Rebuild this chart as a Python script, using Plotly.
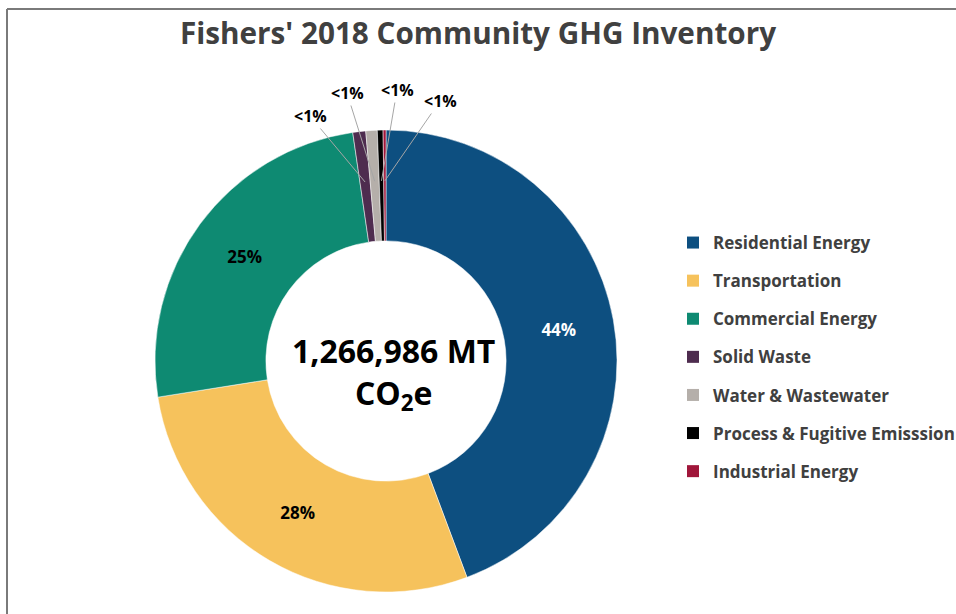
import math
import plotly.graph_objects as go

# ---- data ----
categories = ["Residential Energy", "Transportation", "Commercial Energy", "Solid Waste",
              "Water & Wastewater", "Process & Fugitive Emisssion", "Industrial Energy"]
emissions_mt = [561275, 357290, 319280, 11403, 10136, 5068, 2534]
slice_labels = ["44%", "28%", "25%", "<1%", "<1%", "<1%", "<1%"]
colors = ["#0D4F80", "#F6C25C", "#0E8A72", "#4E2C4F", "#B5AFAA", "#000000", "#A0163A"]
total_text = "1,266,986 MT<br>CO<sub>2</sub>e"
title_text = "Fishers' 2018 Community GHG Inventory"

W, H = 956, 614
# pie placement (pixels)
cx, cy, R = 386, 361, 231
dom_x = [(cx - R) / W, (cx + R) / W]
dom_y = [1 - (cy + R) / H, 1 - (cy - R) / H]

tot = sum(emissions_mt)
big = [i for i, v in enumerate(emissions_mt) if v / tot >= 0.01]
text = [slice_labels[i] if i in big else "" for i in range(len(categories))]
textpos = ["inside" if i in big else "none" for i in range(len(categories))]
txtcol = ["#FFFFFF", "#000000", "#000000", "#000000", "#000000", "#000000", "#000000"]

fig = go.Figure(go.Pie(
    labels=categories, values=emissions_mt, text=text, textinfo="text",
    textposition=textpos, sort=False, direction="clockwise", rotation=0,
    hole=0.52, domain=dict(x=dom_x, y=dom_y), showlegend=False,
    marker=dict(colors=colors, line=dict(color="#FFFFFF", width=0.5)),
    textfont=dict(family="Open Sans", size=17, color=txtcol, weight="bold"),
    insidetextorientation="horizontal",
))

# legend entries (one group each so the rows can be spaced like the original)
for i, (name, col) in enumerate(zip(categories, colors)):
    fig.add_trace(go.Scatter(
        x=[None], y=[None], mode="markers", name=name, legendgroup=f"g{i}",
        marker=dict(symbol="square", size=12, color=col), hoverinfo="skip",
    ))

# leader-line labels for the small slices (label positions in pixels)
label_pos = {3: (310, 116), 4: (347, 93), 5: (397, 90), 6: (440, 101)}
cum = 0
annotations = []
for i, v in enumerate(emissions_mt):
    mid = (cum + v / 2) / tot * 2 * math.pi
    cum += v
    if i in label_pos:
        rr = R * 0.78
        tx = cx + rr * math.sin(mid)
        ty = cy - rr * math.cos(mid)
        lx, ly = label_pos[i]
        annotations.append(dict(
            x=tx / W, y=1 - ty / H, xref="paper", yref="paper",
            ax=lx - tx, ay=ly - ty, axref="pixel", ayref="pixel",
            text=slice_labels[i], showarrow=True, arrowhead=0, arrowwidth=1,
            arrowcolor="#A6A6A6", standoff=0, startstandoff=0,
            font=dict(family="Open Sans", size=16, color="#000000", weight="bold"),
        ))

annotations.append(dict(
    x=(cx + 7) / W, y=1 - (cy + 12) / H, xref="paper", yref="paper", showarrow=False,
    text=total_text, align="center",
    font=dict(family="Open Sans", size=32, color="#000000", weight="bold"),
))

fig.update_layout(
    width=W, height=H, autosize=False,
    margin=dict(l=0, r=0, t=0, b=0, autoexpand=False),
    paper_bgcolor="#FFFFFF", plot_bgcolor="#FFFFFF",
    xaxis=dict(visible=False), yaxis=dict(visible=False),
    title=dict(text=title_text, x=0.5, xanchor="center", y=1 - 34 / H, yanchor="middle",
               font=dict(family="Open Sans", size=29.7, color="#404040", weight="bold")),
    legend=dict(x=673 / W, y=1 - 225 / H, xanchor="left", yanchor="top",
                font=dict(family="Open Sans", size=17, color="#404040", weight="bold"),
                bgcolor="rgba(0,0,0,0)", traceorder="grouped", tracegroupgap=13),
    annotations=annotations,
    shapes=[
        dict(type="line", xref="paper", yref="paper", x0=7 / W, x1=7 / W, y0=0, y1=1 - 9 / H,
             line=dict(color="#7A7A7A", width=2)),
        dict(type="line", xref="paper", yref="paper", x0=7 / W, x1=1, y0=1 - 9 / H, y1=1 - 9 / H,
             line=dict(color="#7A7A7A", width=2)),
    ],
)

fig.write_html("out.html", config={"displayModeBar": False},
               post_script="document.body.style.margin='0';")
